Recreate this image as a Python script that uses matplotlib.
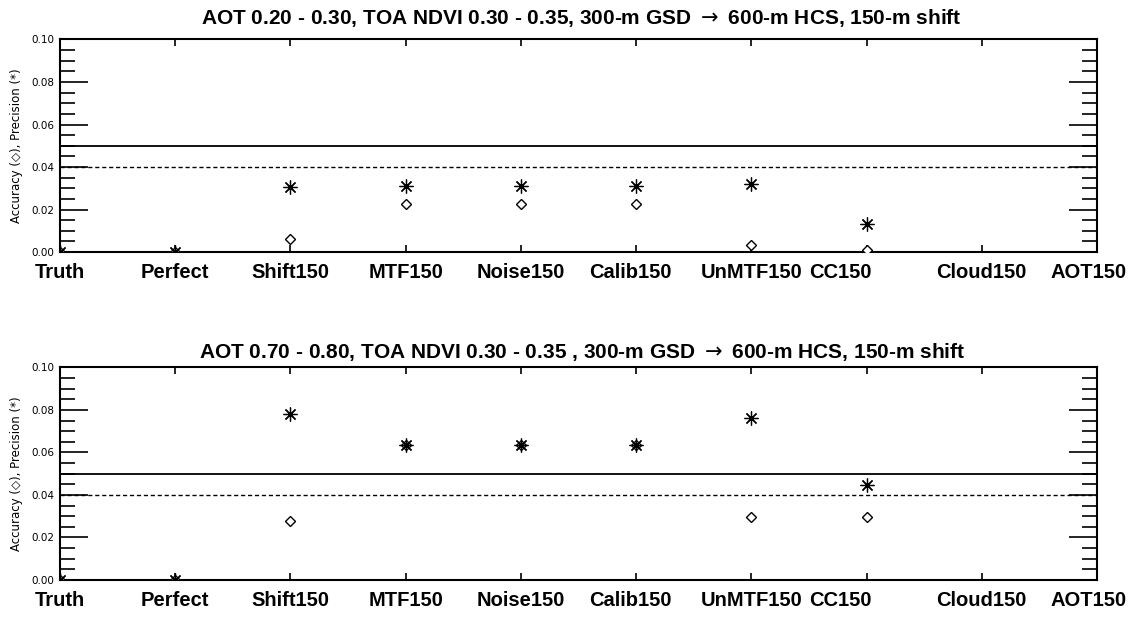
import numpy as np
import matplotlib.pyplot as plt
from matplotlib.ticker import MultipleLocator

categories = ['Truth', 'Perfect', 'Shift150', 'MTF150', 'Noise150',
              'Calib150', 'UnMTF150', 'CC150', 'Cloud150', 'AOT150']

titles = [r'AOT 0.20 - 0.30, TOA NDVI 0.30 - 0.35, 300-m GSD $\rightarrow$ 600-m HCS, 150-m shift',
          r'AOT 0.70 - 0.80, TOA NDVI 0.30 - 0.35 , 300-m GSD $\rightarrow$ 600-m HCS, 150-m shift']

# accuracy (diamonds) and precision (stars); None = not shown
acc_low = [0.0, 0.0, 0.006, 0.0226, 0.0226, 0.0226, 0.0032, 0.0008, None, None]
prec_low = [0.0, 0.0, 0.0304, 0.031, 0.031, 0.031, 0.0319, 0.0131, None, None]
acc_high = [0.0, 0.0, 0.0276, 0.0637, 0.0637, 0.0637, 0.0296, 0.0296, None, None]
prec_high = [0.0, 0.0, 0.0783, 0.0637, 0.0637, 0.0637, 0.0761, 0.0449, None, None]

solid_level = 0.05
dotted_level = 0.04

label_x = [0, 1, 2, 3, 4, 4.95, 6, 6.77, 8, 8.93]

plt.rcParams['font.family'] = ['Liberation Sans', 'DejaVu Sans']

fig = plt.figure(figsize=(11.34, 6.18), dpi=100)
ax1 = fig.add_axes([0.0529, 0.5922, 0.9145, 0.3439])
ax2 = fig.add_axes([0.0529, 0.0615, 0.9145, 0.3439])
title_y = [1 - 18 / 618, 1 - 352 / 618]

star = (8, 2, 0)
for k, (ax, title, acc, prec) in enumerate([(ax1, titles[0], acc_low, prec_low),
                                            (ax2, titles[1], acc_high, prec_high)]):
    x = np.arange(len(categories))
    xa = [i for i, v in zip(x, acc) if v is not None]
    ya = [v for v in acc if v is not None]
    xp = [i for i, v in zip(x, prec) if v is not None]
    yp = [v for v in prec if v is not None]

    ax.axhline(solid_level, color='black', lw=1.3)
    ax.axhline(dotted_level, color='black', lw=1.0, ls=(0, (3, 2)))
    ax.plot(xa, ya, ls='none', marker='D', ms=5.5, mew=1.0, mfc='white',
            mec='black', zorder=3)
    ax.plot(xp, yp, ls='none', marker=star, ms=10, mew=0.9, color='black',
            zorder=4)

    ax.set_xlim(0, 9)
    ax.set_ylim(0, 0.10)
    ax.yaxis.set_major_locator(MultipleLocator(0.02))
    ax.yaxis.set_minor_locator(MultipleLocator(0.005))
    ax.set_yticklabels(['%.2f' % v for v in ax.get_yticks()], fontsize=7.5,
                       family='DejaVu Sans')
    ax.tick_params(axis='y', which='major', direction='in', length=20,
                   width=1.2, right=True, pad=4)
    ax.tick_params(axis='y', which='minor', direction='in', length=11,
                   width=1.2, right=True)
    ax.set_xticks(x)
    ax.set_xticklabels([])
    ax.tick_params(axis='x', which='major', direction='in', length=5,
                   width=1.2, top=True)
    for lx, lab in zip(label_x, categories):
        ax.text(lx, -0.0097, lab, ha='center', va='center', fontsize=14.5,
                fontweight='bold')
    for s in ax.spines.values():
        s.set_linewidth(1.5)
    ax.set_ylabel('Accuracy (◇), Precision (*)', fontsize=8.5, labelpad=6,
                  family='DejaVu Sans')
    fig.text(0.513, title_y[k], title, ha='center', va='center',
             fontsize=15, fontweight='bold')

fig.savefig('out.png', dpi=100, facecolor='white')
